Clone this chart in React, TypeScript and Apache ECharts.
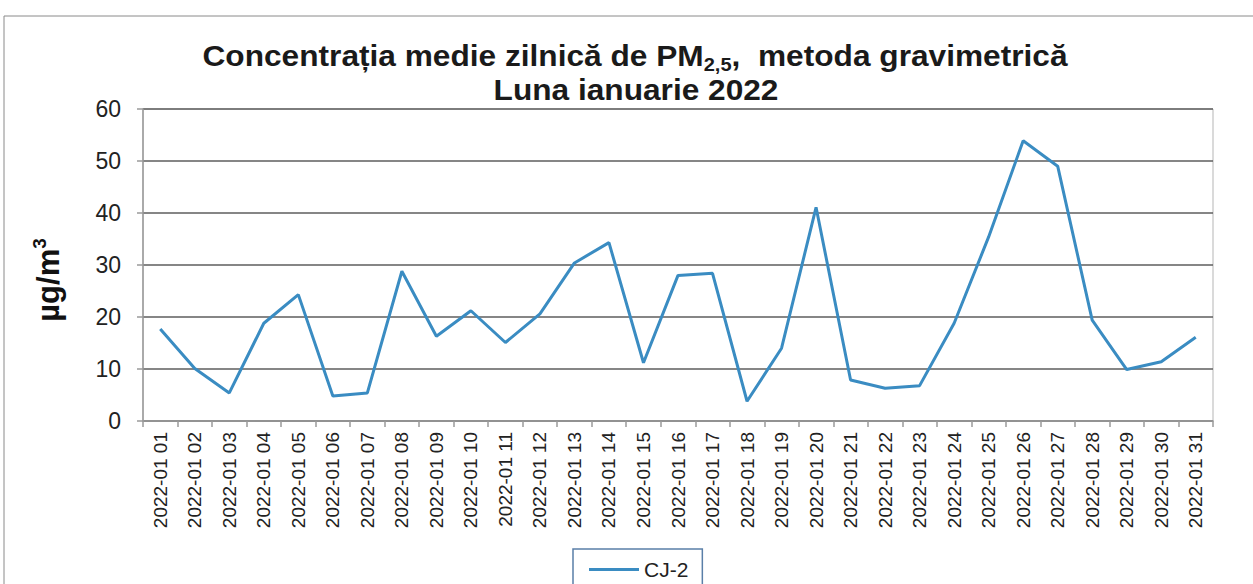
import React, { useEffect, useRef } from "react";
import * as echarts from "echarts";

const days = [
  "2022-01 01", "2022-01 02", "2022-01 03", "2022-01 04", "2022-01 05", "2022-01 06",
  "2022-01 07", "2022-01 08", "2022-01 09", "2022-01 10", "2022-01 11", "2022-01 12",
  "2022-01 13", "2022-01 14", "2022-01 15", "2022-01 16", "2022-01 17", "2022-01 18",
  "2022-01 19", "2022-01 20", "2022-01 21", "2022-01 22", "2022-01 23", "2022-01 24",
  "2022-01 25", "2022-01 26", "2022-01 27", "2022-01 28", "2022-01 29", "2022-01 30",
  "2022-01 31",
];

const cj2 = [
  17.7, 10.1, 5.4, 18.8, 24.3, 4.8, 5.4, 28.8, 16.3, 21.2, 15.1, 20.6, 30.4, 34.3, 11.2,
  28.0, 28.4, 3.8, 14.0, 41.1, 7.9, 6.3, 6.8, 18.8, 35.4, 53.9, 49.0, 19.4, 9.9, 11.4, 16.1,
];

const seriesName = "CJ-2";
const yTicks = { min: 0, max: 60, interval: 10 };

const FONT = "'Liberation Sans', Arial, sans-serif";

export default function App() {
  const ref = useRef<HTMLDivElement>(null);
  useEffect(() => {
    if (!ref.current) return;
    const chart = echarts.init(ref.current, null, { renderer: "svg" });
    chart.setOption({
      animation: false,
      backgroundColor: "#ffffff",
      graphic: [
        {
          type: "rect",
          shape: { x: 4, y: 16, width: 1300, height: 620 },
          style: { fill: "none", stroke: "#8a8a8a", lineWidth: 1 },
          silent: true,
        },
        {
          type: "text",
          x: 635,
          y: 41,
          scaleX: 1.055,
          style: {
            text: "{a|Concentrația medie zilnică de PM}{s|2,5}{a|,  metoda gravimetrică}",
            align: "center",
            verticalAlign: "top",
            rich: {
              a: { fontFamily: FONT, fontWeight: "bold", fontSize: 30, lineHeight: 30, verticalAlign: "top", fill: "#1a1a1a" },
              s: { fontFamily: FONT, fontWeight: "bold", fontSize: 19, lineHeight: 19, padding: [14, 0, 0, 0], verticalAlign: "top", fill: "#1a1a1a" },
            },
          },
        },
        {
          type: "text",
          x: 636,
          y: 75,
          scaleX: 1.055,
          style: {
            text: "Luna ianuarie 2022",
            align: "center",
            verticalAlign: "top",
            fontFamily: FONT,
            fontWeight: "bold",
            fontSize: 30,
            fill: "#1a1a1a",
          },
        },
        {
          type: "text",
          x: 48,
          y: 280,
          rotation: Math.PI / 2,
          style: {
            text: "{u|µg/m}{p|3}",
            align: "center",
            verticalAlign: "middle",
            rich: {
              u: { fontFamily: FONT, fontWeight: "bold", fontSize: 31, lineHeight: 36, verticalAlign: "middle", fill: "#111" },
              p: { fontFamily: FONT, fontWeight: "bold", fontSize: 19, lineHeight: 36, verticalAlign: "top", fill: "#111" },
            },
          },
        },
      ],
      grid: {
        left: 143,
        right: 40,
        top: 109,
        bottom: 163,
        show: true,
        borderColor: "#b5b5b5",
        borderWidth: 1,
      },
      legend: {
        data: [seriesName],
        left: 573,
        top: 549,
        orient: "horizontal",
        icon: "rect",
        itemWidth: 50,
        itemHeight: 3,
        itemGap: 4,
        padding: [10, 14, 14, 16],
        borderColor: "#5a7fa8",
        borderWidth: 1.5,
        backgroundColor: "#fff",
        textStyle: { fontFamily: FONT, fontSize: 21, color: "#222", padding: [0, 0, 0, 0] },
      },
      xAxis: {
        type: "category",
        data: days,
        boundaryGap: true,
        axisLine: { show: true, lineStyle: { color: "#9a9a9a", width: 1.5 } },
        axisTick: { show: true, length: 6, lineStyle: { color: "#9a9a9a", width: 1.5 } },
        axisLabel: {
          rotate: 90,
          interval: 0,
          margin: 11,
          fontFamily: FONT,
          fontSize: 19,
          color: "#222",
        },
        splitLine: { show: false },
      },
      yAxis: {
        type: "value",
        min: yTicks.min,
        max: yTicks.max,
        interval: yTicks.interval,
        axisLine: { show: true, lineStyle: { color: "#9a9a9a", width: 1.5 } },
        axisTick: { show: true, length: 6, lineStyle: { color: "#9a9a9a", width: 1.5 } },
        axisLabel: { margin: 22, fontFamily: FONT, fontSize: 23, color: "#222" },
        splitLine: { show: true, lineStyle: { color: "#5e5e5e", width: 1.5 } },
      },
      series: [
        {
          name: seriesName,
          type: "line",
          data: cj2,
          symbol: "none",
          lineStyle: { color: "#3a8cc2", width: 3 },
          itemStyle: { color: "#3a8cc2" },
        },
      ],
    });
    return () => chart.dispose();
  }, []);
  return (
    <div
      ref={ref}
      style={{ position: "fixed", left: 0, top: 0, width: 1253, height: 584 }}
    />
  );
}
